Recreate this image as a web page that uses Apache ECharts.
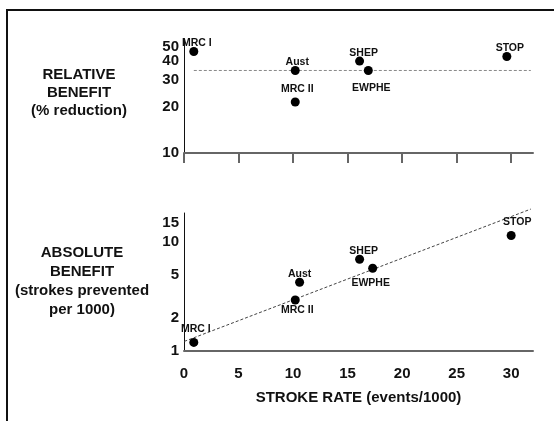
<!DOCTYPE html>
<html>
<head>
<meta charset="utf-8">
<script src="https://cdn.jsdelivr.net/npm/echarts@6/dist/echarts.min.js"></script>
<style>
  html, body { margin: 0; padding: 0; background: #fff; }
  #chart { width: 554px; height: 421px; }
</style>
</head>
<body>
<div id="chart"></div>
<script>
// trials, same order in both panels
const trials = ["MRC I", "Aust", "MRC II", "SHEP", "EWPHE", "STOP"];

// relative benefit (% reduction) vs stroke rate
const xTop = [0.9, 10.2, 10.2, 16.1, 16.9, 29.6];
const yTop = [46.4, 34.8, 21.6, 40.1, 34.8, 43.0];
const refLineX = [0.9, 31.8];
const refLineY = [34.8, 34.8];

// absolute benefit (strokes prevented per 1000) vs stroke rate
const xBottom = [0.9, 10.6, 10.2, 16.1, 17.3, 30.0];
const yBottom = [1.2, 4.28, 2.94, 6.96, 5.75, 11.5];
const fitLineX = [-0.4, 31.8];
const fitLineY = [1.18, 20.1];

// tick labels
const xTicks = [0, 5, 10, 15, 20, 25, 30];
const topTicks = [10, 20, 30, 40, 50];
const bottomTicks = [1, 2, 5, 10, 15];

// label offsets (px, text centre from dot centre)
const topLabelOffset = [[3, -8], [2, -8], [2, -13], [4, -8], [3, 18], [3, -8]];
const bottomLabelOffset = [[2, -13], [0, -8], [2, 10], [4, -8], [-2, 15], [6, -13]];

const FONT = "Liberation Sans, Arial, sans-serif";

const pointData = (xs, ys, offsets) =>
  xs.map((x, i) => ({
    value: [x, ys[i]],
    name: trials[i],
    label: { offset: offsets[i] },
  }));

const pairs = (xs, ys) => xs.map((x, i) => [x, ys[i]]);

const scatterStyle = {
  type: "scatter",
  symbolSize: 9,
  itemStyle: { color: "#000", opacity: 1 },
  label: {
    show: true,
    position: "inside",
    formatter: (p) => p.name,
    color: "#111",
    fontFamily: FONT,
    fontWeight: "bold",
    fontSize: 10.5,
  },
  z: 3,
};

const yLabel = (ticks) => ({
  customValues: ticks,
  hideOverlap: false,
  showMinLabel: true,
  showMaxLabel: true,
  margin: 5,
  color: "#111",
  fontFamily: FONT,
  fontWeight: "bold",
  fontSize: 15,
});

// log y axis; the top panel's 40 and 50 sit too close for one axis to
// keep both labels, so odd/even ticks go on two overlaid axes
const logAxis = (gridIndex, min, max, ticks, showLine) => ({
  gridIndex,
  type: "log",
  position: "left",
  offset: 0,
  min,
  max,
  axisLine: { show: showLine, onZero: false, lineStyle: { color: "#111", width: 1 } },
  axisTick: { show: false },
  minorTick: { show: false },
  splitLine: { show: false },
  axisLabel: yLabel(ticks),
});

const chart = echarts.init(document.getElementById("chart"));

const option = {
  backgroundColor: "#fff",
  animation: false,
  grid: [
    { left: 184, top: 39, right: 21, height: 114 },
    { left: 184, top: 213, right: 21, height: 138 },
  ],
  xAxis: [
    {
      gridIndex: 0,
      type: "value",
      min: 0,
      max: 32,
      axisLine: { lineStyle: { color: "#666", width: 2 } },
      axisTick: { show: true, length: 10, customValues: xTicks, lineStyle: { color: "#666", width: 2 } },
      axisLabel: { show: false },
      splitLine: { show: false },
    },
    {
      gridIndex: 1,
      type: "value",
      min: 0,
      max: 32,
      name: "STROKE RATE (events/1000)",
      nameLocation: "middle",
      nameGap: 39,
      nameTextStyle: { color: "#111", fontFamily: FONT, fontWeight: "bold", fontSize: 15 },
      axisLine: { lineStyle: { color: "#666", width: 2 } },
      axisTick: { show: false },
      axisLabel: {
        customValues: xTicks,
        margin: 15,
        color: "#111",
        fontFamily: FONT,
        fontWeight: "bold",
        fontSize: 15,
      },
      splitLine: { show: false },
    },
  ],
  yAxis: [
    logAxis(0, 10, 56, topTicks.filter((t, i) => i % 2 === 0), true),
    logAxis(1, 1, 18.5, bottomTicks, true),
    logAxis(0, 10, 56, topTicks.filter((t, i) => i % 2 === 1), false),
  ],
  series: [
    {
      type: "line",
      xAxisIndex: 0,
      yAxisIndex: 0,
      data: pairs(refLineX, refLineY),
      symbol: "none",
      lineStyle: { color: "#888", width: 1, type: [3, 2] },
      z: 1,
    },
    Object.assign({}, scatterStyle, {
      xAxisIndex: 0,
      yAxisIndex: 0,
      data: pointData(xTop, yTop, topLabelOffset),
    }),
    {
      type: "line",
      xAxisIndex: 1,
      yAxisIndex: 1,
      data: pairs(fitLineX, fitLineY),
      symbol: "none",
      clip: false,
      lineStyle: { color: "#444", width: 1, type: [3, 2] },
      z: 1,
    },
    Object.assign({}, scatterStyle, {
      xAxisIndex: 1,
      yAxisIndex: 1,
      data: pointData(xBottom, yBottom, bottomLabelOffset),
    }),
  ],
  graphic: [
    {
      type: "rect",
      shape: { x: 7, y: 10, width: 620, height: 480 },
      style: { fill: null, stroke: "#111", lineWidth: 2 },
      silent: true,
    },
    {
      type: "text",
      x: 79,
      y: 93,
      style: {
        text: "RELATIVE\nBENEFIT\n(% reduction)",
        align: "center",
        verticalAlign: "middle",
        lineHeight: 18,
        fill: "#111",
        font: "bold 15px " + FONT,
      },
    },
    {
      type: "text",
      x: 82,
      y: 281,
      style: {
        text: "ABSOLUTE\nBENEFIT\n(strokes prevented\nper 1000)",
        align: "center",
        verticalAlign: "middle",
        lineHeight: 19,
        fill: "#111",
        font: "bold 15px " + FONT,
      },
    },
  ],
};

chart.setOption(option);
</script>
</body>
</html>
